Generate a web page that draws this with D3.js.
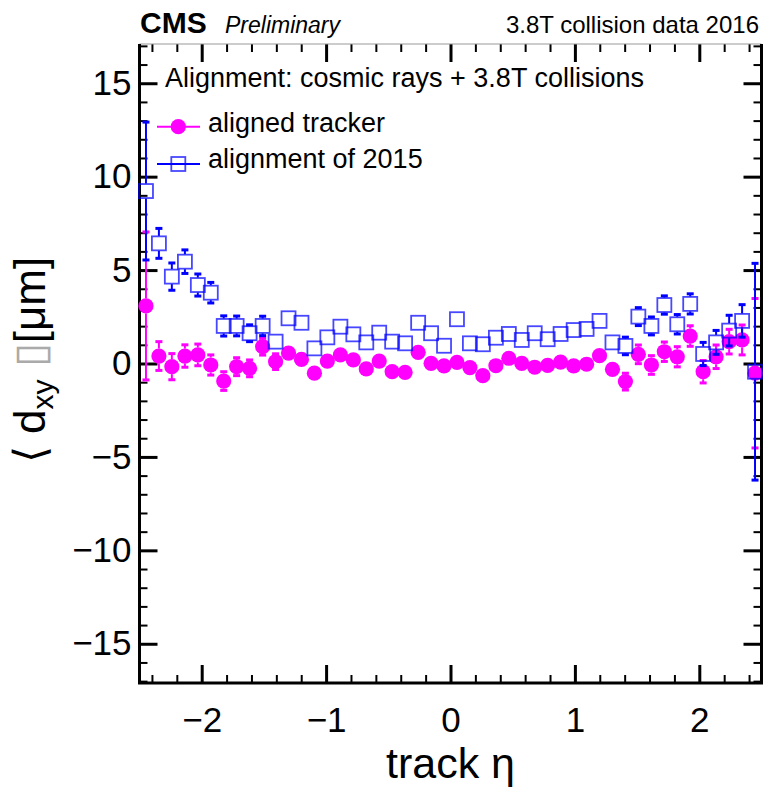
<!DOCTYPE html>
<html>
<head>
<meta charset="utf-8">
<script src="https://cdn.jsdelivr.net/npm/d3@7/dist/d3.min.js"></script>
<style>
  html, body { margin: 0; padding: 0; background: #fff; }
  svg { display: block; }
  text { font-family: "Liberation Sans", Arial, Helvetica, sans-serif; }
</style>
</head>
<body>
<svg id="chart" width="763" height="789"></svg>
<script>
// ---- data ----
const etaCenters = [-2.448,-2.344,-2.240,-2.135,-2.031,-1.927,-1.823,-1.719,-1.615,-1.510,-1.406,-1.302,-1.198,-1.094,-0.990,-0.885,-0.781,-0.677,-0.573,-0.469,-0.365,-0.260,-0.156,-0.052,
                    0.052,0.156,0.260,0.365,0.469,0.573,0.677,0.781,0.885,0.990,1.094,1.198,1.302,1.406,1.510,1.615,1.719,1.823,1.927,2.031,2.135,2.240,2.344,2.448];
const alignedValues = [3.08,0.40,-0.17,0.40,0.46,-0.08,-0.94,-0.17,-0.26,0.90,0.10,0.56,0.22,-0.52,0.13,0.46,0.19,-0.29,0.13,-0.44,-0.47,0.60,0.01,-0.13,
                       0.06,-0.22,-0.65,-0.12,0.28,0.01,-0.20,-0.10,0.07,-0.13,-0.04,0.42,-0.31,-0.97,0.49,-0.08,0.63,0.36,1.47,-0.44,0.36,1.17,1.26,-0.52];
const alignedErrors = [3.96,0.77,0.70,0.60,0.58,0.54,0.50,0.48,0.45,0.45,0.42,0.40,0.40,0.40,0.40,0.40,0.40,0.40,0.40,0.40,0.40,0.40,0.40,0.40,
                       0.40,0.40,0.40,0.40,0.40,0.40,0.40,0.40,0.40,0.40,0.40,0.40,0.40,0.45,0.50,0.50,0.52,0.54,0.55,0.60,0.63,0.66,0.80,4.00];
const align2015Values = [9.23,6.43,4.65,5.45,4.20,3.79,2.01,2.01,1.62,2.01,1.17,2.42,2.18,0.81,1.40,1.97,1.56,1.13,1.65,1.17,1.08,2.18,1.62,0.95,
                         2.37,1.08,1.03,1.38,1.58,1.26,1.62,1.30,1.58,1.79,1.85,2.28,1.13,0.94,2.51,2.01,3.13,2.10,3.19,0.51,1.13,1.76,2.28,-0.44];
const align2015Errors = [3.69,0.80,0.73,0.63,0.59,0.55,0.54,0.53,0.45,0.52,0.40,0.40,0.40,0.40,0.40,0.40,0.40,0.40,0.40,0.40,0.40,0.40,0.40,0.40,
                         0.40,0.40,0.40,0.40,0.40,0.40,0.40,0.40,0.40,0.40,0.40,0.40,0.40,0.47,0.48,0.48,0.49,0.52,0.54,0.62,0.64,0.82,0.87,5.80];
const xMajorTicks = [-2,-1,0,1,2];
const xMinorTicks = [-2.4,-2.2,-1.8,-1.6,-1.4,-1.2,-0.8,-0.6,-0.4,-0.2,0.2,0.4,0.6,0.8,1.2,1.4,1.6,1.8,2.2,2.4];
const yMajorTicks = [-15,-10,-5,0,5,10,15];
const yMinorTicks = [-17,-16,-14,-13,-12,-11,-9,-8,-7,-6,-4,-3,-2,-1,1,2,3,4,6,7,8,9,11,12,13,14,16,17];
const seriesNames = ["aligned tracker", "alignment of 2015"];
const legendHeader = "Alignment: cosmic rays + 3.8T collisions";

// ---- layout ----
const svg = d3.select("#chart");
const L = 139.5, R = 761.5, T = 44, B = 683;
const x = d3.scaleLinear().domain([-2.5, 2.5]).range([L, R]);
const y = d3.scaleLinear().domain([-17.1, 17.1]).range([B, T]);
const MAG = "#ff00ff", BLUE = "#0000ff";
const fmt = d3.format("");

svg.append("rect").attr("width", 763).attr("height", 789).attr("fill", "#fff");

// ---- axes ----
function styleAxis(g, width, showLabels, fontSize) {
  g.select(".domain").remove();
  g.selectAll(".tick line").attr("stroke", "#000").attr("stroke-width", width);
  if (!showLabels) g.selectAll(".tick text").remove();
  else g.selectAll(".tick text").attr("fill", "#000").style("font-size", fontSize + "px")
        .style("font-family", '"Liberation Sans", Arial, sans-serif');
}
// bottom
svg.append("g").attr("transform", `translate(0,${B})`)
  .call(d3.axisBottom(x).tickValues(xMinorTicks).tickSize(-8).tickSizeOuter(0))
  .call(g => styleAxis(g, 2, false));
svg.append("g").attr("transform", `translate(0,${B})`)
  .call(d3.axisBottom(x).tickValues(xMajorTicks).tickFormat(fmt).tickSize(-18).tickSizeOuter(0).tickPadding(24))
  .call(g => styleAxis(g, 3, true, 35));
// top
svg.append("g").attr("transform", `translate(0,${T})`)
  .call(d3.axisTop(x).tickValues(xMinorTicks).tickSize(-8).tickSizeOuter(0))
  .call(g => styleAxis(g, 2, false));
svg.append("g").attr("transform", `translate(0,${T})`)
  .call(d3.axisTop(x).tickValues(xMajorTicks).tickSize(-18).tickSizeOuter(0))
  .call(g => styleAxis(g, 3, false));
// left
svg.append("g").attr("transform", `translate(${L},0)`)
  .call(d3.axisLeft(y).tickValues(yMinorTicks).tickSize(-8).tickSizeOuter(0))
  .call(g => styleAxis(g, 2, false));
svg.append("g").attr("transform", `translate(${L},0)`)
  .call(d3.axisLeft(y).tickValues(yMajorTicks).tickFormat(fmt).tickSize(-18).tickSizeOuter(0).tickPadding(8))
  .call(g => styleAxis(g, 3, true, 35));
// right
svg.append("g").attr("transform", `translate(${R},0)`)
  .call(d3.axisRight(y).tickValues(yMinorTicks).tickSize(-8).tickSizeOuter(0))
  .call(g => styleAxis(g, 2, false));
svg.append("g").attr("transform", `translate(${R},0)`)
  .call(d3.axisRight(y).tickValues(yMajorTicks).tickSize(-18).tickSizeOuter(0))
  .call(g => styleAxis(g, 3, false));

// frame lines
svg.append("line").attr("x1", L).attr("x2", R).attr("y1", T).attr("y2", T).attr("stroke", "#999").attr("stroke-width", 1);
svg.append("line").attr("x1", L - 1.5).attr("x2", R + 1.5).attr("y1", B).attr("y2", B).attr("stroke", "#000").attr("stroke-width", 3);
svg.append("line").attr("x1", L).attr("x2", L).attr("y1", T).attr("y2", B).attr("stroke", "#000").attr("stroke-width", 3);
svg.append("line").attr("x1", R).attr("x2", R).attr("y1", T).attr("y2", B).attr("stroke", "#000").attr("stroke-width", 3);

// ---- data marks ----
const magData = etaCenters.map((e, i) => ({ e, v: alignedValues[i], err: alignedErrors[i] }));
const bluData = etaCenters.map((e, i) => ({ e, v: align2015Values[i], err: align2015Errors[i] }));
const plot = svg.append("g");

function errorBars(g, data, color, halfMarker) {
  const gg = g.append("g");
  data.forEach(d => {
    const cx = x(d.e), yc = y(d.v), yt = y(d.v + d.err), yb = y(d.v - d.err);
    if (yc - halfMarker > yt) {
      gg.append("line").attr("x1", cx).attr("x2", cx).attr("y1", yt).attr("y2", yc - halfMarker)
        .attr("stroke", color).attr("stroke-width", 2);
      gg.append("line").attr("x1", cx - 3.5).attr("x2", cx + 3.5).attr("y1", yt).attr("y2", yt)
        .attr("stroke", color).attr("stroke-width", 3);
    }
    if (yb > yc + halfMarker) {
      gg.append("line").attr("x1", cx).attr("x2", cx).attr("y1", yc + halfMarker).attr("y2", yb)
        .attr("stroke", color).attr("stroke-width", 2);
      gg.append("line").attr("x1", cx - 3.5).attr("x2", cx + 3.5).attr("y1", yb).attr("y2", yb)
        .attr("stroke", color).attr("stroke-width", 3);
    }
  });
}

errorBars(plot, magData, MAG, 7.5);
plot.append("g").selectAll("circle").data(magData).join("circle")
  .attr("cx", d => x(d.e)).attr("cy", d => y(d.v)).attr("r", 7.6).attr("fill", MAG);

errorBars(plot, bluData, BLUE, 7.5);
plot.append("g").selectAll("rect").data(bluData).join("rect")
  .attr("x", d => x(d.e) - 7).attr("y", d => y(d.v) - 7).attr("width", 14).attr("height", 14)
  .attr("fill", "none").attr("stroke", BLUE).attr("stroke-opacity", 0.72).attr("stroke-width", 1.8);

// ---- header ----
svg.append("text").attr("x", 140).attr("y", 33).attr("font-size", 30).attr("font-weight", "bold").text("CMS");
svg.append("text").attr("x", 225).attr("y", 33).attr("font-size", 23).attr("font-style", "italic").text("Preliminary");
svg.append("text").attr("x", 759).attr("y", 33).attr("font-size", 24).attr("text-anchor", "end").text("3.8T collision data 2016");

// ---- legend ----
svg.append("text").attr("x", 165).attr("y", 87).attr("font-size", 27).text(legendHeader);
const legY = [126.7, 164];
const legBase = [132.3, 168.3];
svg.append("line").attr("x1", 157).attr("x2", 200).attr("y1", legY[0]).attr("y2", legY[0]).attr("stroke", MAG).attr("stroke-width", 2);
svg.append("circle").attr("cx", 178.3).attr("cy", legY[0]).attr("r", 7.6).attr("fill", MAG);
svg.append("line").attr("x1", 157).attr("x2", 200).attr("y1", legY[1]).attr("y2", legY[1]).attr("stroke", BLUE).attr("stroke-width", 2);
svg.append("rect").attr("x", 178.3 - 7).attr("y", legY[1] - 7).attr("width", 14).attr("height", 14)
  .attr("fill", "none").attr("stroke", BLUE).attr("stroke-opacity", 0.72).attr("stroke-width", 1.8);
seriesNames.forEach((n, i) => {
  svg.append("text").attr("x", 208).attr("y", legBase[i]).attr("font-size", 27).text(n);
});

// ---- axis titles ----
svg.append("text").attr("x", x(0)).attr("y", 778).attr("font-size", 43).attr("text-anchor", "middle").text("track η");

const yt = svg.append("text").attr("transform", "translate(45,360) rotate(-90)")
  .attr("text-anchor", "middle").attr("font-size", 44);
yt.append("tspan").text("⟨ d");
yt.append("tspan").attr("font-size", 30).attr("dy", 8).text("xy");
yt.append("tspan").attr("dy", -8).attr("fill", "#aaa").text(" ▯");
yt.append("tspan").text("[μm]");
</script>
</body>
</html>
